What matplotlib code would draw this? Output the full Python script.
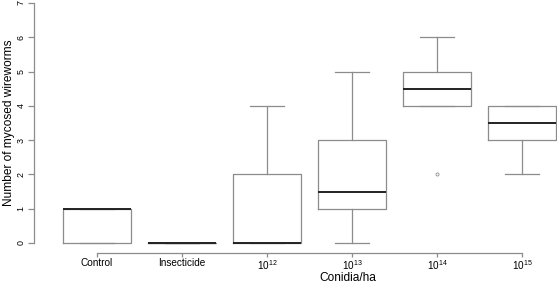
import matplotlib.pyplot as plt

# Box statistics
groups = ["Control", "Insecticide", "$10^{12}$", "$10^{13}$", "$10^{14}$", "$10^{15}$"]
q1 = [0, 0, 0, 1, 4, 3]
med = [1, 0, 0, 1.5, 4.5, 3.5]
q3 = [1, 0, 2, 3, 5, 4]
whislo = [0, 0, 0, 0, 4, 2]
whishi = [1, 0, 4, 5, 6, 4]
fliers = [[], [], [], [], [2], []]
yticks = [0, 1, 2, 3, 4, 5, 6, 7]

gray = "#8c8c8c"
plt.rcParams["font.family"] = ["Liberation Sans", "DejaVu Sans"]
plt.rcParams["mathtext.fontset"] = "custom"
plt.rcParams["mathtext.rm"] = "Liberation Sans"

fig = plt.figure(figsize=(5.57, 2.83), dpi=100)
ax = fig.add_axes([34 / 557, (283 - 252.6) / 283, 1 - 34 / 557, 252.6 / 283])

stats = []
for i, name in enumerate(groups):
    stats.append(dict(label=name, q1=q1[i], med=med[i], q3=q3[i],
                      whislo=whislo[i], whishi=whishi[i], fliers=fliers[i]))

ax.bxp(stats, positions=range(1, 7), widths=0.8, capwidths=0.4,
       boxprops=dict(color=gray, lw=0.9),
       whiskerprops=dict(color=gray, lw=0.9, linestyle="-"),
       capprops=dict(color=gray, lw=0.9),
       medianprops=dict(color="#222222", lw=1.4),
       flierprops=dict(marker="o", markersize=2.2, markerfacecolor="none",
                       markeredgecolor=gray, markeredgewidth=0.6))

ax.set_xlim(0.26, 6.41)
ax.set_ylim(-0.28, 7.087)

for s in ["top", "right"]:
    ax.spines[s].set_visible(False)
ax.spines["left"].set_bounds(0, 7)
ax.spines["bottom"].set_bounds(1, 6)
for s in ["left", "bottom"]:
    ax.spines[s].set_color(gray)
    ax.spines[s].set_linewidth(0.9)

ax.set_yticks(yticks)
ax.set_yticklabels([str(v) for v in yticks], rotation=90, va="center")
ax.tick_params(axis="both", colors=gray, labelcolor="black", width=0.9)
ax.tick_params(axis="x", length=3, pad=1, labelsize=7.2)
ax.tick_params(axis="y", length=4, pad=2, labelsize=6.4)

ax.set_xlabel("Conidia/ha", fontsize=8.6, va="center")
ax.xaxis.set_label_coords((348 - 34) / 523, (252.6 - 278) / 252.6)
ax.set_ylabel("Number of mycosed wireworms", fontsize=8.6, va="center")
ax.yaxis.set_label_coords((9 - 34) / 523, 0.515)

fig.savefig("out.png", dpi=100)
